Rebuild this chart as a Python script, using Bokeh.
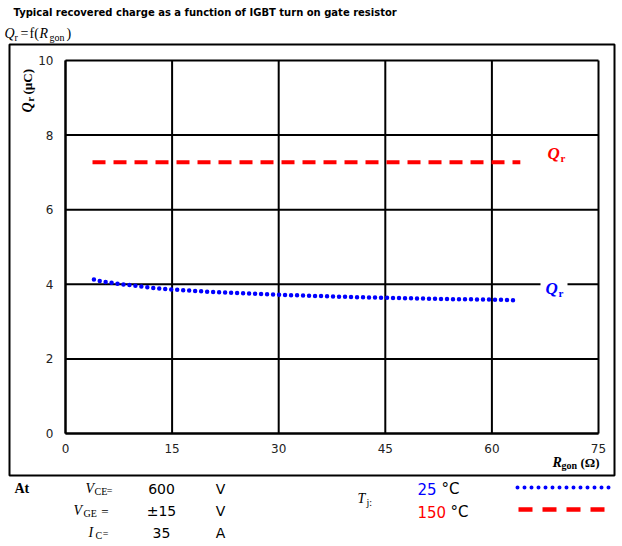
from math import pi
from bokeh.plotting import figure
from bokeh.models import Label, BoxAnnotation, FixedTicker, Range1d, LinearAxis
from bokeh.embed import file_html
from bokeh.resources import INLINE

# ---- data ----
r_gon_25 = [4, 5, 7.5, 10, 12.5, 15, 20, 25, 30, 35, 40, 45, 50, 55, 60, 63.5]
qr_25 = [4.13, 4.08, 4.01, 3.96, 3.90, 3.86, 3.80, 3.76, 3.72, 3.69, 3.66, 3.64, 3.62, 3.60, 3.59, 3.57]
r_gon_150 = [3.8, 64]
qr_150 = [7.27, 7.27]
x_ticks = [0, 15, 30, 45, 60, 75]
y_ticks = [0, 2, 4, 6, 8, 10]

BLUE = "#0000ff"
RED = "#ff0000"
SERIF = "Liberation Serif"
SANS = "DejaVu Sans"

# ---- layout (page pixels) ----
W, H = 620, 544
PL, PR, PT, PB = 65, 598, 60, 433          # plot area edges
XS = (PR - PL) / (x_ticks[-1] - x_ticks[0])
YS = (PB - PT) / (y_ticks[-1] - y_ticks[0])

p = figure(width=W, height=H,
           x_range=Range1d(x_ticks[0] - PL / XS, x_ticks[0] + (W - PL) / XS),
           y_range=Range1d(y_ticks[0] - (H - PB) / YS, y_ticks[0] + PB / YS),
           x_axis_location=None, y_axis_location=None,
           output_backend="svg", toolbar_location=None, min_border=0)
p.background_fill_color = "white"
p.border_fill_color = "white"
p.outline_line_color = None
p.grid.visible = False

# grid lines (including the frame top / right)
p.segment(x0=x_ticks, y0=[y_ticks[0]] * len(x_ticks), x1=x_ticks, y1=[y_ticks[-1]] * len(x_ticks),
          line_color="black", line_width=2)
p.segment(x0=[x_ticks[0]] * len(y_ticks), y0=y_ticks, x1=[x_ticks[-1]] * len(y_ticks), y1=y_ticks,
          line_color="black", line_width=2)

xaxis = LinearAxis(fixed_location=y_ticks[0], bounds=(x_ticks[0], x_ticks[-1]),
                   ticker=FixedTicker(ticks=x_ticks))
yaxis = LinearAxis(fixed_location=x_ticks[0], bounds=(y_ticks[0], y_ticks[-1]),
                   ticker=FixedTicker(ticks=y_ticks))
for ax in (xaxis, yaxis):
    ax.axis_line_color = "black"
    ax.axis_line_width = 2
    ax.major_tick_out = 0
    ax.major_tick_in = 0
    ax.minor_tick_line_color = None
    ax.major_label_text_font = SANS
    ax.major_label_text_font_size = "12px"
    ax.major_label_text_color = "#222222"
xaxis.major_label_standoff = 10
yaxis.major_label_standoff = 12
p.add_layout(xaxis, "below")
p.add_layout(yaxis, "left")

# curves
p.line(r_gon_150, qr_150, line_color=RED, line_width=4, line_dash="13 8")
p.line(r_gon_25, qr_25, line_color=BLUE, line_width=4.5, line_dash="0 6", line_cap="round")


def to_x(px):
    return x_ticks[0] + (px - PL) / XS


def to_y(py):
    return y_ticks[0] + (PB - py) / YS


# key samples beside the temperature labels (page positions converted through the scales)
p.segment(x0=[to_x(517)], y0=[to_y(487)], x1=[to_x(609)], y1=[to_y(487)],
          line_color=BLUE, line_width=4, line_dash="0 7", line_cap="round")
p.segment(x0=[to_x(518)], y0=[to_y(509)], x1=[to_x(604)], y1=[to_y(509)],
          line_color=RED, line_width=4.5, line_dash="14 10")


def lab(txt, px, py, size=12, font=SANS, style="normal", color="black",
        align="left", baseline="middle", angle=0):
    p.add_layout(Label(x=px, y=H - py, x_units="screen", y_units="screen",
                       text=txt, text_font=font, text_font_size=f"{size}px",
                       text_font_style=style, text_color=color, text_align=align,
                       text_baseline=baseline, angle=angle))


def box(l, r, t, b, **kw):
    p.add_layout(BoxAnnotation(left=l, right=r, top=H - t, bottom=H - b,
                               left_units="screen", right_units="screen",
                               top_units="screen", bottom_units="screen", **kw))


# outer box
box(9, 614, 44, 475, fill_alpha=0, line_color="black", line_width=2, line_alpha=1)
# white gap behind the blue curve label
box(540, 567, 278, 289, fill_color="white", fill_alpha=1, line_alpha=0)

# title and subtitle
lab("Typical recovered charge as a function of IGBT turn on gate resistor", 13, 12, 10, SANS, "bold")
lab("Q", 4, 33, 14, SERIF, "italic")
lab("r", 14, 37, 10, SERIF)
lab("=", 20, 33, 14, SERIF)
lab("f(", 29, 33, 14, SERIF)
lab("R", 39, 33, 14, SERIF, "italic")
lab("gon", 49, 37, 10, SERIF)
lab(")", 66, 33, 14, SERIF)

# y axis label (rotated)
lab("Q", 27, 112, 14, SERIF, "bold italic", angle=pi / 2)
lab("r", 30, 101, 10, SERIF, "bold", angle=pi / 2)
lab("(µC)", 27, 94, 13, SERIF, "bold", angle=pi / 2)

# x axis label
lab("R", 552, 462, 14, SERIF, "bold italic")
lab("gon", 561, 465, 10, SERIF, "bold")
lab("(Ω)", 580, 462, 13, SERIF, "bold")

# curve labels
lab("Q", 547, 153, 17, SERIF, "bold italic", RED)
lab("r", 560, 157, 11, SERIF, "bold", RED)
lab("Q", 545, 288, 17, SERIF, "bold italic", BLUE)
lab("r", 558, 292, 11, SERIF, "bold", BLUE)

# conditions
lab("At", 14, 488, 14, SERIF, "bold")
lab("V", 85, 488, 14, SERIF, "italic")
lab("CE", 94, 491, 10, SERIF)
lab("=", 112, 490, 10, SERIF, align="right")
lab("V", 73, 510, 14, SERIF, "italic")
lab("GE", 83, 513, 10, SERIF)
lab("=", 108, 511, 13, SERIF, align="right")
lab("I", 88, 532, 14, SERIF, "italic")
lab("C", 95, 535, 10, SERIF)
lab("=", 108, 533, 10, SERIF, align="right")
lab("600", 161, 488, 14, SANS, align="center")
lab("±15", 161, 510, 14, SANS, align="center")
lab("35", 161, 532, 14, SANS, align="center")
lab("V", 220, 488, 14, SANS, align="center")
lab("V", 220, 510, 14, SANS, align="center")
lab("A", 220, 532, 14, SANS, align="center")
lab("T", 357, 498, 14, SERIF, "italic")
lab("j:", 366, 502, 10, SERIF)
lab("25", 417, 488, 15, SANS, color=BLUE)
lab("°C", 441, 488, 15, SANS)
lab("150", 417, 511, 15, SANS, color=RED)
lab("°C", 450, 511, 15, SANS)

open("out.html", "w").write(file_html(p, INLINE))
